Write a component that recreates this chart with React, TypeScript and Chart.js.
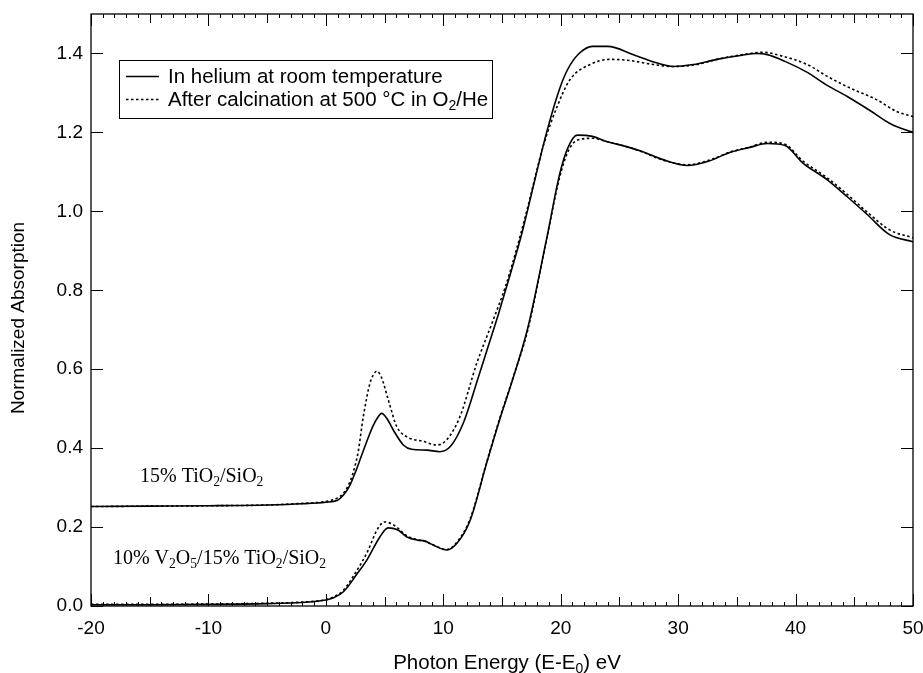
import React, { useEffect, useRef } from "react";
import { Chart, registerables } from "chart.js";

Chart.register(...registerables);

// ---- axis ticks ----
const xTickValues = [-20, -10, 0, 10, 20, 30, 40, 50];
const yTickValues = [0, 0.2, 0.4, 0.6, 0.8, 1.0, 1.2, 1.4];

// ---- 15% TiO2/SiO2, in helium (solid) ----
const tiHeX = [-20, -15, -10, -5, -2, 0, 1, 1.5, 2.0, 2.5, 3.0, 3.5, 4.0, 4.4, 4.75, 5.2, 5.74, 6.6, 7.3, 8.6, 9.7, 10.6, 11.7, 13.0, 13.9, 14.7, 15.7, 16.7, 17.8, 18.8, 19.9, 20.6, 21.5, 22.7, 24.0, 26.2, 28.3, 29.6, 31.3, 33.3, 35.3, 36.7, 37.6, 39.1, 41.0, 42.7, 44.4, 46.2, 48.2, 50];
const tiHeY = [0.252, 0.253, 0.254, 0.256, 0.259, 0.263, 0.268, 0.281, 0.303, 0.338, 0.378, 0.418, 0.455, 0.477, 0.488, 0.475, 0.446, 0.408, 0.397, 0.395, 0.391, 0.404, 0.463, 0.581, 0.665, 0.74, 0.84, 0.945, 1.08, 1.2, 1.31, 1.36, 1.398, 1.418, 1.418, 1.397, 1.375, 1.367, 1.372, 1.385, 1.395, 1.40, 1.397, 1.38, 1.352, 1.319, 1.291, 1.258, 1.22, 1.20];

// ---- 15% TiO2/SiO2, after calcination (dotted) ----
const tiO2X = [-20, -15, -10, -5, -2, 0, 1, 1.5, 2.1, 2.5, 2.75, 3.19, 3.76, 4.05, 4.33, 4.7, 5.32, 6.03, 6.88, 8.3, 9.44, 10.29, 11.42, 12.85, 14.1, 15.3, 16.2, 17.1, 18.5, 19.7, 20.8, 22.5, 24.2, 25.9, 27.9, 29.6, 31.6, 33.3, 35.5, 37.2, 38.9, 41.0, 42.7, 44.6, 46.9, 48.6, 50];
const tiO2Y = [0.252, 0.253, 0.254, 0.256, 0.26, 0.265, 0.274, 0.286, 0.318, 0.357, 0.39, 0.48, 0.565, 0.586, 0.595, 0.582, 0.522, 0.455, 0.429, 0.417, 0.408, 0.421, 0.48, 0.615, 0.713, 0.81, 0.9, 1.0, 1.164, 1.266, 1.334, 1.372, 1.385, 1.382, 1.372, 1.367, 1.372, 1.385, 1.397, 1.403, 1.393, 1.372, 1.342, 1.313, 1.283, 1.253, 1.24];

// ---- 10% V2O5/15% TiO2/SiO2, in helium (solid) ----
const vHeX = [-20, -15, -10, -5, -2, 0, 0.6, 1.5, 2.6, 3.5, 4.6, 5.3, 6.1, 6.9, 7.8, 8.4, 9.1, 10.3, 11.2, 12.3, 13.7, 14.8, 15.9, 17.2, 18.8, 19.9, 20.6, 21.4, 22.7, 23.9, 25.6, 27.0, 28.7, 30.8, 32.5, 34.4, 36.1, 37.6, 39.1, 40.6, 42.7, 44.4, 46.1, 48.0, 50];
const vHeY = [0.003, 0.003, 0.004, 0.006, 0.009, 0.015, 0.02, 0.036, 0.079, 0.117, 0.175, 0.198, 0.193, 0.175, 0.167, 0.165, 0.155, 0.142, 0.16, 0.218, 0.363, 0.472, 0.573, 0.705, 0.93, 1.093, 1.16, 1.193, 1.19, 1.177, 1.164, 1.151, 1.131, 1.116, 1.126, 1.149, 1.162, 1.172, 1.167, 1.123, 1.08, 1.037, 0.992, 0.941, 0.923];

// ---- 10% V2O5/15% TiO2/SiO2, after calcination (dotted) ----
const vO2X = [-20, -15, -10, -5, -2, 0, 0.6, 1.5, 2.6, 3.5, 4.4, 5.0, 5.8, 6.9, 7.8, 8.4, 9.1, 10.3, 11.2, 12.3, 13.7, 14.8, 15.9, 17.2, 18.8, 19.9, 20.6, 21.4, 22.7, 23.9, 25.6, 27.0, 28.7, 30.8, 32.5, 34.4, 36.1, 37.6, 39.1, 40.6, 42.7, 44.4, 46.1, 48.0, 50];
const vO2Y = [0.004, 0.004, 0.005, 0.007, 0.01, 0.016, 0.022, 0.04, 0.088, 0.135, 0.195, 0.213, 0.205, 0.178, 0.168, 0.164, 0.155, 0.143, 0.163, 0.222, 0.365, 0.475, 0.575, 0.7, 0.93, 1.085, 1.15, 1.18, 1.185, 1.177, 1.164, 1.15, 1.13, 1.118, 1.128, 1.15, 1.163, 1.175, 1.17, 1.128, 1.085, 1.043, 0.998, 0.953, 0.933];

// ---- text ----
type Seg = { t: string; sub?: boolean };
const legendLabels: Seg[][] = [
  [{ t: "In helium at room temperature" }],
  [{ t: "After calcination at 500 °C in O" }, { t: "2", sub: true }, { t: "/He" }],
];
const sampleLabels: Seg[][] = [
  [{ t: "15% TiO" }, { t: "2", sub: true }, { t: "/SiO" }, { t: "2", sub: true }],
  [{ t: "10% V" }, { t: "2", sub: true }, { t: "O" }, { t: "5", sub: true }, { t: "/15% TiO" }, { t: "2", sub: true }, { t: "/SiO" }, { t: "2", sub: true }],
];
const sampleLabelAnchors = [
  { x: -15.83, y: 0.3145 },
  { x: -18.13, y: 0.1065 },
];
const xTitle: Seg[] = [{ t: "Photon Energy (E-E" }, { t: "0", sub: true }, { t: ") eV" }];
const yTitle = "Normalized Absorption";

const SANS = '"Liberation Sans", Arial, Helvetica, sans-serif';
const SERIF = '"Liberation Serif", "Times New Roman", Times, serif';

function toPoints(xs: number[], ys: number[]) {
  return xs.map((x, i) => ({ x, y: ys[i] }));
}

function segWidth(ctx: CanvasRenderingContext2D, segs: Seg[], size: number, family: string) {
  let w = 0;
  for (const s of segs) {
    ctx.font = `${s.sub ? size * 0.68 : size}px ${family}`;
    w += ctx.measureText(s.t).width;
  }
  return w;
}

function drawSegs(ctx: CanvasRenderingContext2D, segs: Seg[], x: number, y: number, size: number, family: string) {
  let cx = x;
  ctx.textBaseline = "alphabetic";
  ctx.textAlign = "left";
  for (const s of segs) {
    const fs = s.sub ? size * 0.68 : size;
    ctx.font = `${fs}px ${family}`;
    ctx.fillText(s.t, cx, s.sub ? y + size * 0.2 : y);
    cx += ctx.measureText(s.t).width;
  }
}

const decorPlugin = {
  id: "decor",
  afterDatasetsDraw(chart: any) {
    const { ctx, chartArea } = chart;
    const xs = chart.scales.x;
    const ys = chart.scales.y;
    const { left, right, top, bottom } = chartArea;
    ctx.save();
    ctx.strokeStyle = "#000";
    ctx.fillStyle = "#000";

    // frame
    ctx.lineWidth = 1.3;
    ctx.strokeRect(left, top, right - left, bottom - top);

    // x ticks (inward, top & bottom)
    ctx.lineWidth = 1;
    ctx.beginPath();
    for (let v = xs.min; v <= xs.max + 1e-9; v += 1) {
      const px = Math.round(xs.getPixelForValue(v)) + 0.5;
      const len = Math.abs(v % 10) < 1e-9 ? 12 : Math.abs(v % 5) < 1e-9 ? 9 : 4;
      ctx.moveTo(px, bottom);
      ctx.lineTo(px, bottom - len);
      ctx.moveTo(px, top);
      ctx.lineTo(px, top + len);
    }
    // y ticks (inward, left & right)
    for (const v of yTickValues) {
      const py = Math.round(ys.getPixelForValue(v)) + 0.5;
      ctx.moveTo(left, py);
      ctx.lineTo(left + 12, py);
      ctx.moveTo(right, py);
      ctx.lineTo(right - 12, py);
    }
    ctx.stroke();

    // legend
    const lx = left + 28;
    const ly = top + 46;
    const fs = 20.5;
    const textX = lx + 49;
    let maxW = 0;
    legendLabels.forEach((l) => (maxW = Math.max(maxW, segWidth(ctx, l, fs, SANS))));
    const bw = textX - lx + maxW + 4;
    const bh = 58;
    ctx.lineWidth = 1;
    ctx.strokeRect(Math.round(lx) + 0.5, Math.round(ly) + 0.5, Math.round(bw), bh);
    legendLabels.forEach((l, i) => {
      const ds = chart.data.datasets[i];
      const rowY = ly + 16 + i * 23;
      ctx.save();
      ctx.lineWidth = 1.4;
      ctx.setLineDash(ds.borderDash || []);
      ctx.beginPath();
      ctx.moveTo(lx + 7, rowY + 0.5);
      ctx.lineTo(lx + 40, rowY + 0.5);
      ctx.stroke();
      ctx.restore();
      drawSegs(ctx, l, textX, rowY + 7, fs, SANS);
    });

    // sample labels
    sampleLabels.forEach((l, i) => {
      const a = sampleLabelAnchors[i];
      drawSegs(ctx, l, xs.getPixelForValue(a.x), ys.getPixelForValue(a.y), 20, SERIF);
    });

    // x title
    const tfs = 20.5;
    const tw = segWidth(ctx, xTitle, tfs, SANS);
    drawSegs(ctx, xTitle, (left + right) / 2 + 5 - tw / 2, bottom + 63, tfs, SANS);

    // y title
    ctx.save();
    ctx.translate(19, (top + bottom) / 2 + 8);
    ctx.rotate(-Math.PI / 2);
    ctx.font = `19px ${SANS}`;
    ctx.textAlign = "center";
    ctx.textBaseline = "middle";
    ctx.fillText(yTitle, 0, 0);
    ctx.restore();

    ctx.restore();
  },
};

export default function App() {
  const ref = useRef<HTMLCanvasElement | null>(null);

  useEffect(() => {
    document.body.style.margin = "0";
    const canvas = ref.current;
    if (!canvas) return;
    const solid = { borderColor: "#000", borderWidth: 1.6, pointRadius: 0, fill: false, cubicInterpolationMode: "monotone" as const };
    const dotted = { ...solid, borderDash: [2.5, 2.5] };
    const chart = new Chart(canvas, {
      type: "line",
      data: {
        datasets: [
          { label: "In helium at room temperature", data: toPoints(tiHeX, tiHeY), ...solid },
          { label: "After calcination at 500 °C in O2/He", data: toPoints(tiO2X, tiO2Y), ...dotted },
          { label: "V In helium", data: toPoints(vHeX, vHeY), ...solid },
          { label: "V After calcination", data: toPoints(vO2X, vO2Y), ...dotted },
        ],
      },
      options: {
        animation: false,
        responsive: false,
        maintainAspectRatio: false,
        devicePixelRatio: 1,
        layout: { padding: { left: 0, right: 10, top: 14, bottom: 0 } },
        plugins: { legend: { display: false }, tooltip: { enabled: false } },
        scales: {
          x: {
            type: "linear",
            min: -20,
            max: 50,
            grid: { display: false, drawTicks: false },
            border: { display: false },
            afterBuildTicks: (s: any) => {
              s.ticks = xTickValues.map((v) => ({ value: v }));
            },
            afterFit: (s: any) => {
              s.height = 67;
              s.paddingLeft = 0;
              s.paddingRight = 0;
            },
            ticks: {
              padding: 11,
              color: "#000",
              font: { family: SANS, size: 19 },
              maxRotation: 0,
              autoSkip: false,
              callback: (v: any) => String(v),
            },
          },
          y: {
            type: "linear",
            min: 0,
            max: 1.5,
            grid: { display: false, drawTicks: false },
            border: { display: false },
            afterBuildTicks: (s: any) => {
              s.ticks = yTickValues.map((v) => ({ value: v }));
            },
            afterFit: (s: any) => {
              s.width = 91;
              s.paddingTop = 0;
              s.paddingBottom = 0;
            },
            ticks: {
              padding: 8,
              color: "#000",
              font: { family: SANS, size: 19 },
              callback: (v: any) => Number(v).toFixed(1),
            },
          },
        },
      },
      plugins: [decorPlugin],
    });
    return () => chart.destroy();
  }, []);

  return (
    <div style={{ width: 923, height: 673 }}>
      <canvas ref={ref} width={923} height={673} style={{ width: 923, height: 673, display: "block" }} />
    </div>
  );
}
